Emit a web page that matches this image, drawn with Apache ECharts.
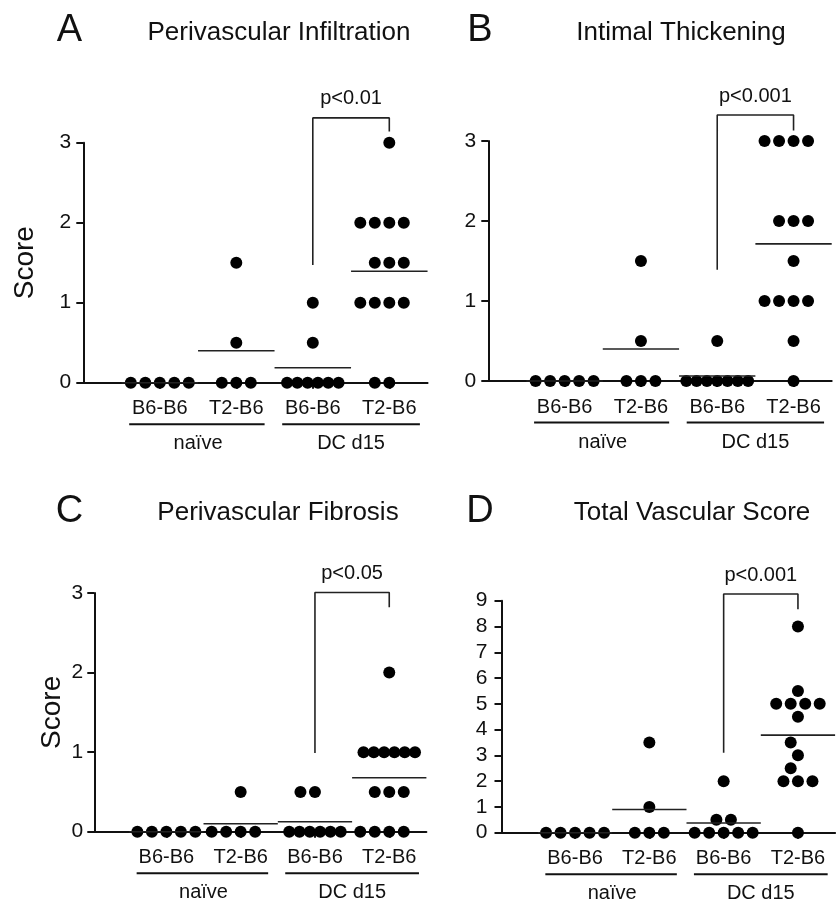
<!DOCTYPE html>
<html><head><meta charset="utf-8">
<script src="https://cdn.jsdelivr.net/npm/echarts@6/dist/echarts.min.js"></script>
<style>html,body{margin:0;padding:0;background:#fff}#c{width:837px;height:901px}</style>
</head><body><div id="c"></div>
<script>
// ---- categories & labels ----
const categories = ['B6-B6', 'T2-B6', 'B6-B6', 'T2-B6'];
const groupLabels = ['naïve', 'DC d15'];
const yTicksScore = [0, 1, 2, 3];
const yTicksTotal = [0, 1, 2, 3, 4, 5, 6, 7, 8, 9];

// ---- A: Perivascular Infiltration ----
const infNaiveB6 = [0, 0, 0, 0, 0];
const infNaiveT2 = [0, 0, 0, 0.5, 1.5];
const infDcB6 = [0, 0, 0, 0, 0, 0, 0.5, 1];
const infDcT2 = [0, 0, 1, 1, 1, 1, 1.5, 1.5, 1.5, 2, 2, 2, 2, 3];
const infBracket = [1.47, 3.31, 3.14];

// ---- B: Intimal Thickening ----
const intNaiveB6 = [0, 0, 0, 0, 0];
const intNaiveT2 = [0, 0, 0, 0.5, 1.5];
const intDcB6 = [0, 0, 0, 0, 0, 0, 0, 0.5];
const intDcT2 = [0, 0.5, 1, 1, 1, 1, 1.5, 2, 2, 2, 3, 3, 3, 3];
const intBracket = [1.39, 3.325, 3.13];

// ---- C: Perivascular Fibrosis ----
const fibNaiveB6 = [0, 0, 0, 0, 0];
const fibNaiveT2 = [0, 0, 0, 0, 0.5];
const fibDcB6 = [0, 0, 0, 0, 0, 0, 0.5, 0.5];
const fibDcT2 = [0, 0, 0, 0, 0.5, 0.5, 0.5, 1, 1, 1, 1, 1, 1, 2];
const fibBracket = [0.99, 3.007, 2.82];

// ---- D: Total Vascular Score ----
const totNaiveB6 = [0, 0, 0, 0, 0];
const totNaiveT2 = [0, 0, 0, 1, 3.5];
const totDcB6 = [0, 0, 0, 0, 0, 0.5, 0.5, 2];
const totDcT2 = [0, 2, 2, 2, 2.5, 3, 3.5, 4.5, 5, 5, 5, 5, 5.5, 8];
const totBracket = [3.10, 9.26, 8.67];

const pLabels = ['p<0.01', 'p<0.001', 'p<0.05', 'p<0.001'];

const FONT = '"Liberation Sans", Arial, Helvetica, sans-serif';
const INK = '#111';

const panels = [
  { letter: 'A', title: 'Perivascular Infiltration', groups: [infNaiveB6, infNaiveT2, infDcB6, infDcT2],
    ticks: yTicksScore, bracket: infBracket, p: pLabels[0], yName: 'Score', nameGap: 44,
    grid: { left: 83.3, top: 142.7, width: 344.25, height: 240 }, xmin: -1, labelMargin: 12,
    letterPos: [69.5, 31], titlePos: [279, 33] },
  { letter: 'B', title: 'Intimal Thickening', groups: [intNaiveB6, intNaiveT2, intDcB6, intDcT2],
    ticks: yTicksScore, bracket: intBracket, p: pLabels[1], yName: '', nameGap: 0,
    grid: { left: 488.3, top: 141, width: 343.4, height: 240 }, xmin: -1, labelMargin: 12,
    letterPos: [480, 31], titlePos: [681, 33] },
  { letter: 'C', title: 'Perivascular Fibrosis', groups: [fibNaiveB6, fibNaiveT2, fibDcB6, fibDcT2],
    ticks: yTicksScore, bracket: fibBracket, p: pLabels[2], yName: 'Score', nameGap: 28,
    grid: { left: 94.3, top: 593, width: 332.1, height: 238.7 }, xmin: -0.97, labelMargin: 11,
    letterPos: [69.5, 512], titlePos: [278, 513] },
  { letter: 'D', title: 'Total Vascular Score', groups: [totNaiveB6, totNaiveT2, totDcB6, totDcT2],
    ticks: yTicksTotal, bracket: totBracket, p: pLabels[3], yName: '', nameGap: 0,
    grid: { left: 501.5, top: 600.7, width: 333.6, height: 232 }, xmin: -0.99, labelMargin: 14,
    letterPos: [480, 512], titlePos: [692, 513] }
];

const XMAX = 3.5;

// beeswarm layout in pixels, returned in axis units
function swarm(values, pxX, pxY) {
  const S = 14.5, D = 14, COMP = 10.3;
  const sorted = values.slice().sort((a, b) => a - b);
  const distinct = [...new Set(sorted)];
  const placed = [];
  distinct.forEach(v => {
    const n = sorted.filter(u => u === v).length;
    const y = v * pxY;
    if (n >= 6) {
      for (let i = 0; i < n; i++) placed.push({ x: (i - (n - 1) / 2) * COMP, y, v });
      return;
    }
    for (let k = 0; k < n; k++) {
      for (let j = 0; j < 40; j++) {
        const m = Math.ceil(j / 2) * 0.5 * (j % 2 === 1 ? -1 : 1);
        const x = m * S;
        if (placed.every(p => Math.hypot(p.x - x, p.y - y) >= D)) { placed.push({ x, y, v }); break; }
      }
    }
  });
  return placed.map(p => [p.x / pxX, p.v]);
}

const grids = [], xAxes = [], yAxes = [], series = [], graphics = [];

panels.forEach((P, pi) => {
  const ymax = P.ticks[P.ticks.length - 1];
  const pxX = P.grid.width / (XMAX - P.xmin);
  const pxY = P.grid.height / ymax;
  grids.push(Object.assign({ outerBoundsMode: 'none', containLabel: false }, P.grid));
  xAxes.push({
    gridIndex: pi, type: 'value', min: P.xmin, max: XMAX,
    axisLine: { show: true, onZero: false, lineStyle: { color: INK, width: 2 } },
    axisTick: { show: true, customValues: [0, 1, 2, 3], length: 6, lineStyle: { color: INK, width: 2 } },
    axisLabel: { show: true, customValues: [0, 1, 2, 3], margin: 16, color: INK, fontSize: 20, fontFamily: FONT,
      formatter: v => categories[Math.round(v)] },
    splitLine: { show: false }
  });
  yAxes.push({
    gridIndex: pi, type: 'value', min: 0, max: ymax, interval: 1,
    name: P.yName, nameLocation: 'middle', nameGap: P.nameGap, nameRotate: 90,
    nameTextStyle: { fontSize: 28, fontFamily: FONT, color: INK },
    axisLine: { show: true, onZero: false, lineStyle: { color: INK, width: 2 } },
    axisTick: { show: true, length: 7, lineStyle: { color: INK, width: 2 } },
    axisLabel: { margin: P.labelMargin, color: INK, fontSize: 21, fontFamily: FONT },
    splitLine: { show: false }
  });

  // dots
  const dots = [];
  P.groups.forEach((vals, gi) => {
    swarm(vals, pxX, pxY).forEach(([dx, v]) => dots.push([gi + dx, v]));
  });
  series.push({ type: 'scatter', xAxisIndex: pi, yAxisIndex: pi, data: dots, symbolSize: 12,
    itemStyle: { color: '#000', opacity: 1 }, clip: false, z: 4 });

  // mean lines
  P.groups.forEach((vals, gi) => {
    const m = vals.reduce((a, b) => a + b, 0) / vals.length;
    series.push({ type: 'line', xAxisIndex: pi, yAxisIndex: pi, data: [[gi - 0.5, m], [gi + 0.5, m]],
      symbol: 'none', clip: false, lineStyle: { color: '#222', width: 1.6, opacity: 1 }, z: 5 });
  });

  // bracket
  const b = P.bracket;
  series.push({ type: 'line', xAxisIndex: pi, yAxisIndex: pi,
    data: [[2, b[0]], [2, b[1]], [3, b[1]], [3, b[2]]],
    symbol: 'none', clip: false, lineStyle: { color: '#222', width: 1.6, opacity: 1 }, z: 3 });
  series.push({ type: 'scatter', xAxisIndex: pi, yAxisIndex: pi, data: [[2.5, b[1]]], symbolSize: 0,
    clip: false, silent: true, itemStyle: { opacity: 1 },
    label: { show: true, position: 'top', distance: 9, formatter: P.p, fontSize: 20, fontFamily: FONT, color: INK } });

  // group underlines and labels
  const yU = -41.5 / pxY, yG = -61 / pxY;
  [[-0.4, 1.37], [1.6, 3.4]].forEach(([a, c]) => {
    series.push({ type: 'line', xAxisIndex: pi, yAxisIndex: pi, data: [[a, yU], [c, yU]],
      symbol: 'none', clip: false, lineStyle: { color: INK, width: 2, opacity: 1 } });
  });
  series.push({ type: 'scatter', xAxisIndex: pi, yAxisIndex: pi, data: [[0.5, yG, 0], [2.5, yG, 1]],
    symbolSize: 0, clip: false, silent: true, itemStyle: { opacity: 1 },
    label: { show: true, position: 'inside', formatter: p => groupLabels[p.data[2]], fontSize: 20,
      fontFamily: FONT, color: INK } });

  // letters & titles
  graphics.push({ type: 'text', x: P.letterPos[0], y: P.letterPos[1],
    style: { text: P.letter, fontSize: 38, fontFamily: FONT, fill: INK, align: 'center', verticalAlign: 'middle' } });
  graphics.push({ type: 'text', x: P.titlePos[0], y: P.titlePos[1],
    style: { text: P.title, fontSize: 26, fontFamily: FONT, fill: INK, align: 'center', verticalAlign: 'middle' } });
});

const chart = echarts.init(document.getElementById('c'), null, { renderer: 'canvas' });
chart.setOption({
  animation: false,
  backgroundColor: '#fff',
  grid: grids, xAxis: xAxes, yAxis: yAxes, series: series, graphic: graphics
});
</script></body></html>
